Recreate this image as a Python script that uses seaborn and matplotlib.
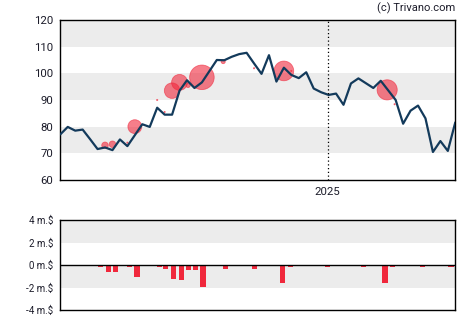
import numpy as np
import pandas as pd
import matplotlib
matplotlib.use("Agg")
import matplotlib.pyplot as plt
import matplotlib.dates as mdates
import seaborn as sns

# Weekly closing prices (USD)
week_start = "2024-04-25"
prices = [77.1, 79.9, 78.5, 78.9, 75.3, 71.6, 72.2, 71.2, 75.2, 72.7,
          76.8, 80.9, 79.9, 87.1, 84.5, 84.5, 93.5, 97.4, 94.5, 96.6,
          100.8, 105.0, 104.9, 106.2, 107.2, 107.7, 103.7, 99.8, 106.8, 96.9,
          102.1, 99.4, 98.2, 100.4, 94.3, 92.9, 91.9, 92.4, 88.2, 96.2,
          98.1, 96.3, 94.5, 97.2, 93.6, 90.0, 81.1, 86.0, 87.9, 83.1,
          70.5, 74.6, 70.9, 81.6]

# Insider trades: date, price, value (million USD)
trade_dates = ["2024-06-06", "2024-06-13", "2024-06-27", "2024-07-04",
               "2024-07-25", "2024-08-01", "2024-08-08", "2024-08-15",
               "2024-08-23", "2024-09-05", "2024-09-25", "2024-10-24",
               "2024-11-21", "2024-11-28", "2025-02-26", "2025-03-05"]
trade_prices = [73.0, 73.4, 74.0, 80.0, 90.0, 85.5, 93.5, 96.6,
                95.5, 98.5, 104.4, 101.9, 100.9, 100.9, 93.8, 88.4]
trade_values = [0.52, 0.52, 0.10, 1.10, 0.10, 0.10, 1.23, 1.26,
                0.35, 1.95, 0.33, 0.10, 1.56, 0.10, 1.60, 0.10]

# Net insider flow per period (million USD)
flow_dates = ["2024-06-02", "2024-06-09", "2024-06-16", "2024-06-29",
              "2024-07-06", "2024-07-27", "2024-08-02", "2024-08-09",
              "2024-08-17", "2024-08-23", "2024-08-30", "2024-09-06",
              "2024-09-27", "2024-10-24", "2024-11-20", "2024-11-27",
              "2025-01-01", "2025-02-04", "2025-02-24", "2025-03-03",
              "2025-03-31", "2025-04-27"]
flow_values = [-0.15, -0.57, -0.57, -0.13, -1.10, -0.13, -0.33, -1.23,
               -1.29, -0.40, -0.40, -1.95, -0.33, -0.33, -1.56, -0.20,
               -0.13, -0.13, -1.56, -0.20, -0.13, -0.13]

price_ticks = [60, 70, 80, 90, 100, 110, 120]
flow_ticks = [-4, -2, 0, 2, 4]
flow_labels = ["-4 m.$", "-2 m.$", "0 m.$", "2 m.$", "4 m.$"]

sns.set_style("white")
plt.rcParams["font.family"] = ["Roboto", "DejaVu Sans"]

weeks = pd.date_range(week_start, periods=len(prices), freq="7D")
price_df = pd.DataFrame({"date": weeks, "price": prices})
trade_df = pd.DataFrame({"date": pd.to_datetime(trade_dates),
                         "price": trade_prices, "value": trade_values})
flow_df = pd.DataFrame({"date": pd.to_datetime(flow_dates), "value": flow_values})

line_color = "#133a5b"
red = "#f0283c"
band = "#ececec"
text_color = "#1c1c2a"

fig = plt.figure(figsize=(4.7, 3.25), dpi=100)
ax = fig.add_axes([0.1283, 0.4462, 0.8404, 0.4923])
ax2 = fig.add_axes([0.1283, 0.0462, 0.8404, 0.2760])

x0, x1 = weeks[0], weeks[-1]

# --- price panel ---
for lo in (70, 90, 110):
    ax.axhspan(lo, lo + 10, color=band, zorder=0, lw=0)

sizes = (9.07 * trade_df["value"].to_numpy()) ** 2
sns.scatterplot(data=trade_df, x="date", y="price", s=sizes, color=red,
                alpha=0.6, edgecolor=red, linewidth=0.6, ax=ax, zorder=3,
                legend=False)
sns.lineplot(data=price_df, x="date", y="price", color=line_color,
             linewidth=1.6, ax=ax, zorder=4)

new_year = pd.Timestamp("2025-01-01")
ax.axvline(new_year, color="black", linestyle=(0, (1, 2)), linewidth=0.9, zorder=5)

ax.set_xlim(x0, x1)
ax.set_ylim(60, 120)
ax.set_yticks(price_ticks)
ax.set_xticks([new_year])
ax.xaxis.set_major_formatter(mdates.DateFormatter("%Y"))
ax.set_xlabel("")
ax.set_ylabel("")
ax.tick_params(axis="both", direction="out", length=3, width=0.9,
               colors="black", labelcolor=text_color, labelsize=8.2, pad=2)

# --- flow panel ---
ax2.axhspan(2, 4, color=band, zorder=0, lw=0)
ax2.axhspan(-2, 0, color=band, zorder=0, lw=0)
ax2.bar(flow_df["date"], flow_df["value"], width=4.8, color=red,
        linewidth=0, zorder=3)
ax2.axhline(0, color="black", linewidth=1.0, zorder=4)
ax2.set_xlim(x0, x1)
ax2.set_ylim(-4, 4)
ax2.set_yticks(flow_ticks)
ax2.set_yticklabels(flow_labels)
ax2.set_xticks([])
ax2.tick_params(axis="y", direction="out", length=3, width=0.9,
                colors="black", labelcolor=text_color, labelsize=7, pad=2)

for a in (ax, ax2):
    for s in a.spines.values():
        s.set_visible(True)
        s.set_color("black")
        s.set_linewidth(1.0)

fig.text(455 / 470, 1 - 8 / 325, "(c) Trivano.com", ha="right", va="center",
         fontsize=8, color=text_color)

fig.savefig("out.png", dpi=100)
